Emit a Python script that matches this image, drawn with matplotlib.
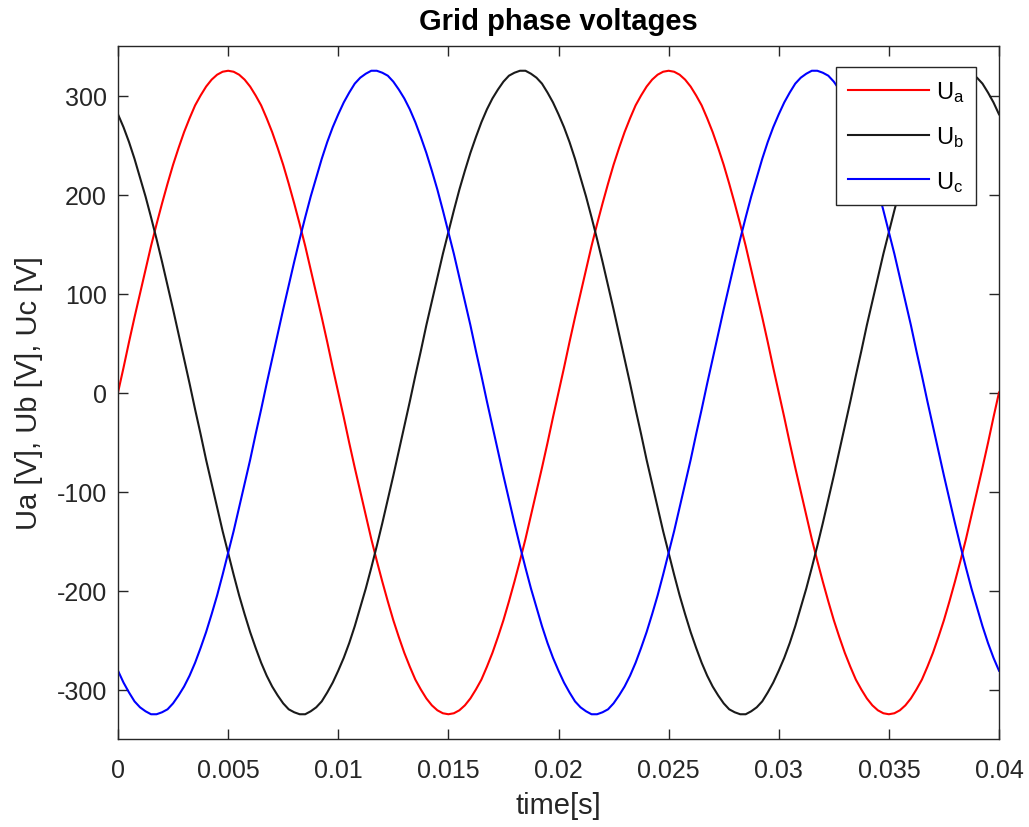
import numpy as np
import matplotlib
matplotlib.use("Agg")
import matplotlib.pyplot as plt

# time axis, 0 .. 0.04 s, sampled every 0.25 ms
t = np.linspace(0, 0.04, 161)

# phase voltages [V]
Ua = [0, 25, 51, 76, 100, 124, 148, 170, 191, 211,
      230, 247, 263, 277, 290, 300, 309, 316, 321, 324,
      325, 324, 321, 316, 309, 300, 290, 277, 263, 247,
      230, 211, 191, 170, 148, 124, 100, 76, 51, 25,
      0, -25, -51, -76, -100, -124, -148, -170, -191, -211,
      -230, -247, -263, -277, -290, -300, -309, -316, -321, -324,
      -325, -324, -321, -316, -309, -300, -290, -277, -263, -247,
      -230, -211, -191, -170, -148, -124, -100, -76, -51, -25,
      0, 25, 51, 76, 100, 124, 148, 170, 191, 211,
      230, 247, 263, 277, 290, 300, 309, 316, 321, 324,
      325, 324, 321, 316, 309, 300, 290, 277, 263, 247,
      230, 211, 191, 170, 148, 124, 100, 76, 51, 25,
      0, -25, -51, -76, -100, -124, -148, -170, -191, -211,
      -230, -247, -263, -277, -290, -300, -309, -316, -321, -324,
      -325, -324, -321, -316, -309, -300, -290, -277, -263, -247,
      -230, -211, -191, -170, -148, -124, -100, -76, -51, -25,
      0]
Ub = [281, 268, 253, 236, 217, 198, 177, 155, 132, 108,
      84, 59, 34, 9, -17, -42, -68, -92, -116, -140,
      -162, -184, -205, -224, -242, -258, -273, -286, -297, -306,
      -314, -320, -323, -325, -325, -322, -318, -312, -303, -293,
      -281, -268, -253, -236, -217, -198, -177, -155, -132, -108,
      -84, -59, -34, -9, 17, 42, 68, 92, 116, 140,
      162, 184, 205, 224, 242, 258, 273, 286, 297, 306,
      314, 320, 323, 325, 325, 322, 318, 312, 303, 293,
      281, 268, 253, 236, 217, 198, 177, 155, 132, 108,
      84, 59, 34, 9, -17, -42, -68, -92, -116, -140,
      -162, -184, -205, -224, -242, -258, -273, -286, -297, -306,
      -314, -320, -323, -325, -325, -322, -318, -312, -303, -293,
      -281, -268, -253, -236, -217, -198, -177, -155, -132, -108,
      -84, -59, -34, -9, 17, 42, 68, 92, 116, 140,
      162, 184, 205, 224, 242, 258, 273, 286, 297, 306,
      314, 320, 323, 325, 325, 322, 318, 312, 303, 293,
      281]
Uc = [-281, -293, -303, -312, -318, -322, -325, -325, -323, -320,
      -314, -306, -297, -286, -273, -258, -242, -224, -205, -184,
      -162, -140, -116, -92, -68, -42, -17, 9, 34, 59,
      84, 108, 132, 155, 177, 198, 217, 236, 253, 268,
      281, 293, 303, 312, 318, 322, 325, 325, 323, 320,
      314, 306, 297, 286, 273, 258, 242, 224, 205, 184,
      162, 140, 116, 92, 68, 42, 17, -9, -34, -59,
      -84, -108, -132, -155, -177, -198, -217, -236, -253, -268,
      -281, -293, -303, -312, -318, -322, -325, -325, -323, -320,
      -314, -306, -297, -286, -273, -258, -242, -224, -205, -184,
      -162, -140, -116, -92, -68, -42, -17, 9, 34, 59,
      84, 108, 132, 155, 177, 198, 217, 236, 253, 268,
      281, 293, 303, 312, 318, 322, 325, 325, 323, 320,
      314, 306, 297, 286, 273, 258, 242, 224, 205, 184,
      162, 140, 116, 92, 68, 42, 17, -9, -34, -59,
      -84, -108, -132, -155, -177, -198, -217, -236, -253, -268,
      -281]

xticks = [0, 0.005, 0.01, 0.015, 0.02, 0.025, 0.03, 0.035, 0.04]
xticklabels = ["0", "0.005", "0.01", "0.015", "0.02", "0.025", "0.03", "0.035", "0.04"]
yticks = [-300, -200, -100, 0, 100, 200, 300]

plt.rcParams['font.family'] = ['Liberation Sans', 'DejaVu Sans']
plt.rcParams['mathtext.fontset'] = 'custom'
plt.rcParams['mathtext.rm'] = 'Liberation Sans'
plt.rcParams['mathtext.it'] = 'Liberation Sans'
plt.rcParams['axes.unicode_minus'] = False

fig = plt.figure(figsize=(10.29, 8.28), dpi=100)
ax = fig.add_axes([118 / 1029, 1 - 740 / 828, 881 / 1029, 693 / 828])

ax.plot(t, Ua, color='#ff0000', lw=1.5, label=r'U$_\mathrm{a}$')
ax.plot(t, Ub, color='#1a1a1a', lw=1.5, label=r'U$_\mathrm{b}$')
ax.plot(t, Uc, color='#0000ff', lw=1.5, label=r'U$_\mathrm{c}$')

ax.set_xlim(0, 0.04)
ax.set_ylim(-350, 350)
ax.set_xticks(xticks)
ax.set_xticklabels(xticklabels)
ax.set_yticks(yticks)

grey = '#262626'
ax.tick_params(direction='in', top=True, right=True, length=7, width=1,
               labelsize=18, colors=grey)
ax.tick_params(axis='x', pad=14)
ax.tick_params(axis='y', pad=8)
for s in ax.spines.values():
    s.set_color(grey)
    s.set_linewidth(1)

ax.set_xlabel('time[s]', fontsize=21, color=grey, labelpad=6)
ax.set_ylabel('Ua [V], Ub [V], Uc [V]', fontsize=21, color=grey, labelpad=10)
ax.set_title('Grid phase voltages', fontsize=21, fontweight='bold', pad=12)

leg = ax.legend(loc='upper right', fontsize=17, frameon=True, fancybox=False,
                framealpha=1, edgecolor=grey, handlelength=3.4, handletextpad=0.3,
                labelspacing=0.85, borderpad=0.5, borderaxespad=0)
leg.get_frame().set_linewidth(1)
leg.set_bbox_to_anchor((976 / 1029, 1 - 68 / 828), transform=fig.transFigure)

fig.savefig('out.png', dpi=100)
